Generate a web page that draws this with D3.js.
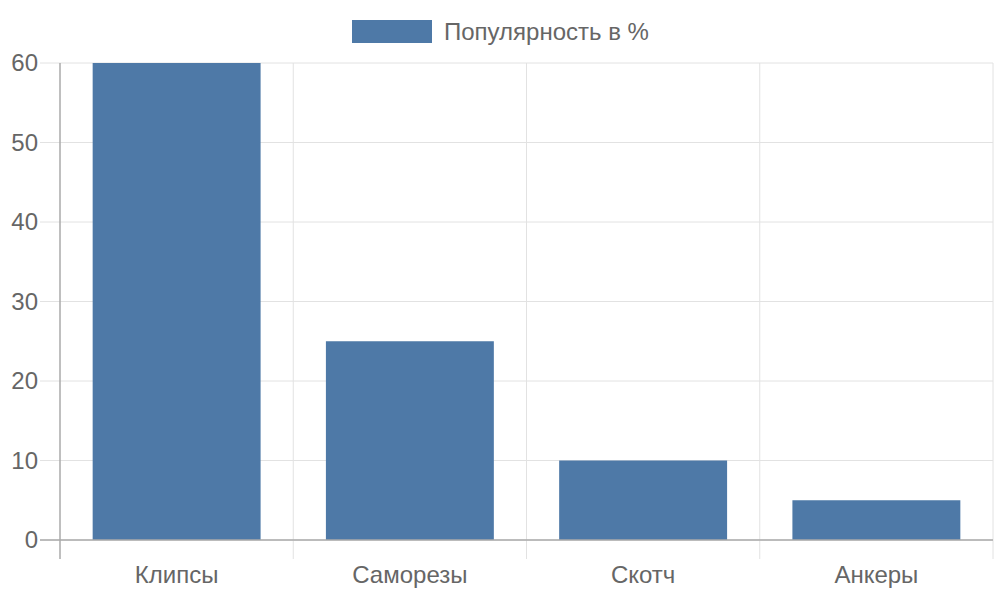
<html>
<head>
  <meta charset="utf-8">
  <script src="https://d3js.org/d3.v7.min.js"></script>
  <style>
    body { margin: 0; background: #fff; }
    text { font-family: "Liberation Sans", Arial, sans-serif; fill: #666; }
  </style>
</head>
<body>
  <svg id="chart" width="1000" height="600"></svg>
  <script>
    var categories = ["Клипсы", "Саморезы", "Скотч", "Анкеры"];
    var values = [60, 25, 10, 5];
    var seriesName = "Популярность в %";
    var yTicks = [0, 10, 20, 30, 40, 50, 60];

    var barColor = "#4e79a7";
    var plotLeft = 60, plotRight = 993, plotTop = 63, plotBottom = 540;

    var svg = d3.select("#chart");

    var x = d3.scaleBand()
      .domain(categories)
      .range([plotLeft, plotRight]);
    var y = d3.scaleLinear()
      .domain([0, 60])
      .range([plotBottom, plotTop]);

    // horizontal grid lines + ticks
    svg.selectAll(".hgrid")
      .data(yTicks)
      .enter()
      .append("line")
      .attr("x1", plotLeft - 20)
      .attr("x2", plotRight)
      .attr("y1", function(d){ return y(d); })
      .attr("y2", function(d){ return y(d); })
      .style("stroke", "#e2e2e2")
      .style("stroke-width", 1);

    // vertical grid lines at band edges
    var edges = categories.map(function(c){ return x(c); }).concat([plotRight]);
    svg.selectAll(".vgrid")
      .data(edges)
      .enter()
      .append("line")
      .attr("x1", function(d){ return d; })
      .attr("x2", function(d){ return d; })
      .attr("y1", plotTop)
      .attr("y2", plotBottom + 19)
      .style("stroke", function(d, i){ return i === 0 ? "#aaa" : "#e2e2e2"; })
      .style("stroke-width", function(d, i){ return i === 0 ? 1.5 : 1; });

    // bars
    var barW = x.bandwidth() * 0.72;
    svg.selectAll(".bar")
      .data(values)
      .enter()
      .append("rect")
      .attr("x", function(d, i){ return x(categories[i]) + (x.bandwidth() - barW) / 2; })
      .attr("width", barW)
      .attr("y", function(d){ return y(d); })
      .attr("height", function(d){ return y(0) - y(d); })
      .attr("fill", barColor);

    // baseline on top of bars
    svg.append("line")
      .attr("x1", plotLeft - 20).attr("x2", plotRight)
      .attr("y1", y(0)).attr("y2", y(0))
      .style("stroke", "#aaa").style("stroke-width", 1.5);

    // y labels
    svg.selectAll(".ylab")
      .data(yTicks)
      .enter()
      .append("text")
      .attr("x", 38)
      .attr("y", function(d){ return y(d) + 8; })
      .attr("text-anchor", "end")
      .style("font-size", "24px")
      .text(function(d){ return d; });

    // x labels
    svg.selectAll(".xlab")
      .data(categories)
      .enter()
      .append("text")
      .attr("x", function(d){ return x(d) + x.bandwidth() / 2; })
      .attr("y", 583)
      .attr("text-anchor", "middle")
      .style("font-size", "24px")
      .text(function(d){ return d; });

    // legend
    svg.append("rect")
      .attr("x", 352).attr("y", 20)
      .attr("width", 80).attr("height", 23)
      .attr("fill", barColor);
    svg.append("text")
      .attr("x", 444).attr("y", 40)
      .style("font-size", "24px")
      .text(seriesName);
  </script>
</body>
</html>
